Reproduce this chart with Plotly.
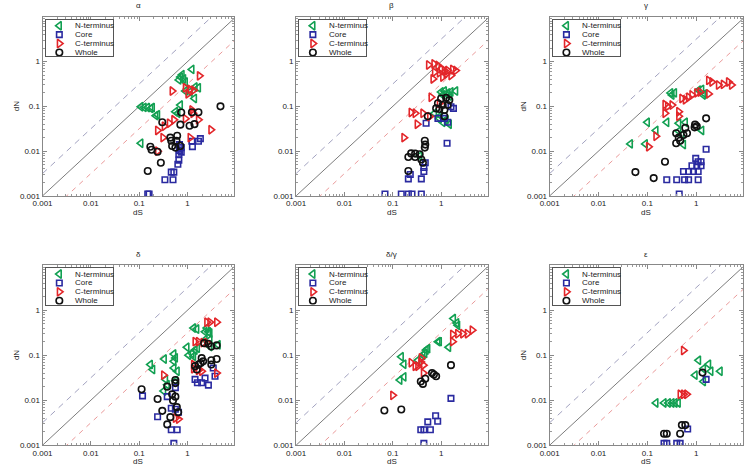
import plotly.graph_objects as go

W, H = 745, 470

# ---------------- data (dS, dN) ----------------
alpha_N_dS = [1.23,0.77,0.71,0.83,0.66,0.90,1.43,1.68,0.90,1.13,1.39,0.108,0.126,0.148,0.173,0.187,0.22,0.24,0.71,0.56,0.63,0.108]
alpha_N_dN = [0.67,0.51,0.45,0.41,0.39,0.35,0.27,0.26,0.22,0.21,0.15,0.098,0.095,0.094,0.090,0.094,0.062,0.065,0.107,0.076,0.070,0.015]
alpha_K_dS = [0.68,0.74,0.68,0.74,0.66,1.23,1.26,1.68,1.84,0.66,0.63,0.46,0.52,0.34,0.50,0.15,0.16]
alpha_K_dN = [0.014,0.012,0.0104,0.0095,0.0085,0.0166,0.0126,0.0166,0.019,0.0063,0.0051,0.0034,0.0034,0.0023,0.0023,0.0011,0.0011]
alpha_C_dS = [1.76,0.48,0.90,1.13,1.33,1.02,1.23,1.29,0.90,0.52,0.42,0.33,0.24,0.31,1.13,1.68,3.04,0.24]
alpha_C_dN = [0.48,0.22,0.26,0.24,0.23,0.19,0.083,0.070,0.053,0.050,0.042,0.036,0.029,0.020,0.020,0.050,0.030,0.010]
alpha_W_dS = [4.8,0.74,1.23,1.68,0.30,0.71,1.10,1.39,0.44,0.61,0.48,0.56,0.71,0.46,0.59,0.17,0.18,0.24,0.28,0.15]
alpha_W_dN = [0.10,0.073,0.074,0.074,0.044,0.039,0.037,0.040,0.020,0.022,0.013,0.012,0.013,0.017,0.017,0.0125,0.0107,0.0097,0.0055,0.0036]

beta_N_dS = [1.0,1.17,1.37,1.6,2.0,1.08,1.48,0.73,0.92,1.27,1.48,1.08,0.97,0.36]
beta_N_dN = [0.21,0.22,0.20,0.21,0.22,0.18,0.17,0.07,0.054,0.05,0.04,0.044,0.062,0.0078]
beta_K_dS = [1.6,1.8,0.86,1.17,1.37,0.49,1.33,0.47,0.44,0.44,0.23,0.21,0.39,0.069,0.15,0.21,0.25,0.39]
beta_K_dN = [0.098,0.09,0.054,0.054,0.044,0.042,0.015,0.0055,0.0043,0.0035,0.003,0.0024,0.0024,0.0011,0.0011,0.0011,0.0011,0.0011]
beta_C_dS = [0.55,0.71,0.86,1.0,1.17,1.37,1.73,2.0,0.73,0.92,1.27,1.6,0.68,1.08,0.62,0.24,0.29,0.42,0.32,0.58,0.17,0.92]
beta_C_dN = [0.84,0.89,0.82,0.69,0.63,0.63,0.67,0.63,0.58,0.56,0.53,0.49,0.41,0.45,0.16,0.073,0.070,0.070,0.040,0.059,0.020,0.117]
beta_W_dS = [1.0,1.27,1.48,0.86,1.08,1.37,0.79,0.92,1.17,0.53,1.17,0.46,0.47,0.46,0.24,0.29,0.21,0.29,0.36,0.39,0.42,0.21]
beta_W_dN = [0.15,0.155,0.138,0.117,0.107,0.107,0.09,0.087,0.083,0.06,0.06,0.017,0.014,0.012,0.0089,0.0088,0.0074,0.0074,0.0085,0.0065,0.0055,0.0036]

gamma_N_dS = [0.30,0.36,0.32,1.12,1.3,1.5,1.4,0.1,0.25,0.15,0.091,0.045,0.44,0.6,0.44,0.51,0.55,1.3]
gamma_N_dN = [0.20,0.20,0.18,0.23,0.24,0.19,0.18,0.044,0.044,0.029,0.0145,0.0145,0.042,0.044,0.028,0.023,0.014,0.029]
gamma_K_dS = [1.6,0.98,1.1,1.26,0.82,1.03,1.26,0.55,0.7,0.88,1.1,0.25,0.4,0.58,0.7,1.1,0.45]
gamma_K_dN = [0.011,0.0069,0.0058,0.0058,0.0047,0.0047,0.0047,0.0035,0.0035,0.0035,0.0035,0.0023,0.0023,0.0023,0.0023,0.0023,0.0011]
gamma_C_dS = [0.23,0.26,0.32,0.51,0.6,0.7,0.82,1.03,1.2,1.8,2.1,2.86,3.6,4.6,5.3,1.8,0.23,0.44,0.44,0.15,0.106]
gamma_C_dN = [0.11,0.10,0.107,0.15,0.14,0.16,0.18,0.20,0.21,0.38,0.35,0.30,0.31,0.35,0.30,0.19,0.07,0.076,0.06,0.0215,0.0125]
gamma_W_dS = [1.6,0.95,1.03,0.93,0.6,0.65,0.55,0.39,0.44,0.39,0.47,0.23,0.057,0.135]
gamma_W_dN = [0.054,0.039,0.036,0.034,0.033,0.025,0.023,0.025,0.02,0.015,0.017,0.0058,0.0034,0.0025]

delta_N_dS = [1.33,1.55,2.5,2.7,2.3,2.9,2.3,2.9,4.3,2.9,0.97,1.43,1.6,1.23,1.33,1.05,0.52,0.56,0.52,0.52,0.61,0.33,0.17,0.19,0.35,0.38,0.32,0.56]
delta_N_dN = [0.40,0.38,0.40,0.33,0.33,0.31,0.22,0.22,0.17,0.156,0.15,0.13,0.143,0.11,0.095,0.10,0.106,0.087,0.073,0.052,0.044,0.082,0.062,0.048,0.029,0.022,0.016,0.027]
delta_K_dS = [1.43,1.6,1.96,2.3,2.7,3.7,3.4,0.117,0.38,0.56,0.46,0.56,0.65,0.24,0.46,0.61,0.52]
delta_K_dN = [0.029,0.0245,0.0245,0.031,0.0216,0.034,0.052,0.0125,0.012,0.019,0.0066,0.0063,0.0054,0.0043,0.0022,0.0022,0.0011]
delta_C_dS = [2.5,2.9,4.0,1.43,1.68,2.1,2.5,1.33,1.33,1.68,1.96,4.0,0.32,0.56,0.65]
delta_C_dN = [0.54,0.54,0.54,0.2,0.2,0.19,0.19,0.062,0.05,0.046,0.044,0.04,0.036,0.004,0.0038]
delta_W_dS = [2.2,2.7,4.0,3.1,1.96,1.87,1.68,3.1,4.0,1.43,1.55,3.1,2.1,0.38,0.56,0.56,0.48,0.56,0.5,0.6,0.64,0.112,0.24,0.3,0.38,0.44]
delta_W_dN = [0.185,0.18,0.165,0.156,0.086,0.067,0.062,0.077,0.082,0.057,0.048,0.062,0.073,0.02,0.028,0.024,0.0135,0.012,0.0098,0.007,0.0054,0.0175,0.0106,0.0058,0.0029,0.0042]

dg_N_dS = [1.8,2.1,2.2,0.92,0.86,0.49,0.53,0.46,0.42,1.43,0.15,0.17,0.33,0.17,0.14]
dg_N_dN = [0.65,0.52,0.46,0.2,0.2,0.13,0.14,0.11,0.1,0.15,0.092,0.063,0.077,0.033,0.028]
dg_K_dS = [1.6,0.77,0.85,0.53,0.38,0.44,0.6,0.44]
dg_K_dN = [0.011,0.0045,0.0034,0.0033,0.0022,0.0022,0.0022,0.0011]
dg_C_dS = [1.73,2.2,2.8,3.5,4.4,1.73,0.39,0.38,0.24,0.29,0.33,0.43,0.43,0.10]
dg_C_dN = [0.29,0.30,0.30,0.30,0.36,0.2,0.087,0.071,0.068,0.057,0.057,0.06,0.04,0.0128]
dg_W_dS = [1.6,0.65,0.71,0.79,0.38,0.42,0.47,0.15,0.067]
dg_W_dN = [0.06,0.04,0.037,0.034,0.026,0.023,0.03,0.0062,0.0059]

eps_N_dS = [1.12,0.95,1.41,1.8,2.0,3.1,1.41,0.15,0.22,0.27,0.32,0.37,0.43]
eps_N_dN = [0.077,0.036,0.05,0.063,0.044,0.044,0.026,0.0087,0.0087,0.0087,0.0087,0.0087,0.0087]
eps_K_dS = [1.6,0.67,0.22,0.25,0.4,0.47]
eps_K_dN = [0.029,0.0023,0.0011,0.0011,0.0011,0.0011]
eps_C_dS = [0.55,0.47,0.55,0.64]
eps_C_dN = [0.127,0.0135,0.0135,0.0135]
eps_W_dS = [1.35,0.51,0.6,0.22,0.25,0.47]
eps_W_dN = [0.041,0.0028,0.0028,0.0018,0.0018,0.0018]

panel_titles = ["α", "β", "γ", "δ", "δ/γ", "ε"]
series_names = ["N-terminus", "Core", "C-terminus", "Whole"]
tick_vals = [0.001, 0.01, 0.1, 1]
tick_text = ["0.001", "0.01", "0.1", "1"]
ratio_lines = [10 ** 0.5, 1.0, 10 ** -0.5]  # dN/dS reference lines

panels = [
    [(alpha_N_dS, alpha_N_dN), (alpha_K_dS, alpha_K_dN), (alpha_C_dS, alpha_C_dN), (alpha_W_dS, alpha_W_dN)],
    [(beta_N_dS, beta_N_dN), (beta_K_dS, beta_K_dN), (beta_C_dS, beta_C_dN), (beta_W_dS, beta_W_dN)],
    [(gamma_N_dS, gamma_N_dN), (gamma_K_dS, gamma_K_dN), (gamma_C_dS, gamma_C_dN), (gamma_W_dS, gamma_W_dN)],
    [(delta_N_dS, delta_N_dN), (delta_K_dS, delta_K_dN), (delta_C_dS, delta_C_dN), (delta_W_dS, delta_W_dN)],
    [(dg_N_dS, dg_N_dN), (dg_K_dS, dg_K_dN), (dg_C_dS, dg_C_dN), (dg_W_dS, dg_W_dN)],
    [(eps_N_dS, eps_N_dN), (eps_K_dS, eps_K_dN), (eps_C_dS, eps_C_dN), (eps_W_dS, eps_W_dN)],
]

# ---------------- styles ----------------
FONT = "Liberation Sans, Arial, Helvetica, sans-serif"
styles = [
    dict(symbol="triangle-left-open", color="#12a052", size=7.5),
    dict(symbol="square-open", color="#2a2aa0", size=5.5),
    dict(symbol="triangle-right-open", color="#e3262a", size=7.5),
    dict(symbol="circle-open", color="#111111", size=6.5),
]
line_styles = [
    dict(color="#8a8ab0", dash="6px,5px", width=0.8),
    dict(color="#444444", dash="solid", width=0.7),
    dict(color="#e58080", dash="5px,5px", width=0.8),
]

col_left = [33, 290, 547]
col_right = [227, 484, 743]
row_top = [17, 268]
row_bot = [198, 450]

minor_vals = [m * 10 ** e for e in range(-3, 1) for m in range(2, 10)]

fig = go.Figure()
layout = dict(
    width=W, height=H, margin=dict(l=0, r=0, t=0, b=0),
    paper_bgcolor="white", plot_bgcolor="white", showlegend=False,
    font=dict(family=FONT, size=8, color="#222"),
)
annotations = []

LEG_W, LEG_H = 68, 37
leg_rows = [6, 15, 24, 33]

for p in range(6):
    r, c = divmod(p, 3)
    L, R, T, B = col_left[c], col_right[c], row_top[r], row_bot[r]
    ax = "" if p == 0 else str(p + 1)
    xa, ya = "x" + ax, "y" + ax
    for ratio, ls in zip(ratio_lines, line_styles):
        xs = [1e-3, 10]
        fig.add_trace(go.Scatter(x=xs, y=[v * ratio for v in xs], mode="lines", line=ls,
                                 xaxis=xa, yaxis=ya, hoverinfo="skip"))
    for (xs, ys), st, nm in zip(panels[p], styles, series_names):
        fig.add_trace(go.Scatter(
            x=xs, y=ys, mode="markers", name=nm, xaxis=xa, yaxis=ya,
            marker=dict(symbol=st["symbol"], size=st["size"], color=st["color"],
                        line=dict(color=st["color"], width=1.6))))
    common = dict(type="log", showline=True, mirror="allticks", linecolor="#888", linewidth=1,
                  ticks="inside", ticklen=4, tickcolor="#888", showgrid=False, zeroline=False,
                  tickvals=tick_vals, ticktext=tick_text, tickfont=dict(size=8, color="#222"),
                  minor=dict(ticks="inside", ticklen=2, tickcolor="#999", tickvals=minor_vals, showgrid=False))
    layout["xaxis" + ax] = dict(common, domain=[L / W, R / W], range=[-3, 0.96], anchor=ya)
    layout["yaxis" + ax] = dict(common, domain=[1 - B / H, 1 - T / H], range=[-3, 1], anchor=xa)

    # title & axis labels
    annotations.append(dict(text=panel_titles[p], x=(L + R) / 2 / W, y=1 - (T - 11) / H, xref="paper", yref="paper",
                            showarrow=False, font=dict(size=8, color="#222"), xanchor="center", yanchor="middle"))
    annotations.append(dict(text="dS", x=(L + R) / 2 / W, y=1 - (B + 15) / H, xref="paper", yref="paper",
                            showarrow=False, font=dict(size=8, color="#222"), xanchor="center", yanchor="top",
                            yshift=5))
    if c != 1:
        annotations.append(dict(text="dN", x=(L - 27) / W, y=1 - (T + B) / 2 / H,
                                xref="paper", yref="paper",
                                showarrow=False, textangle=-90, font=dict(size=8, color="#222"),
                                xanchor="center", yanchor="middle"))

    # legend box as its own small axes
    lx = str(p + 7)
    lL, lT = L + 3, T + 3
    layout["xaxis" + lx] = dict(domain=[lL / W, (lL + LEG_W) / W], range=[0, LEG_W], showline=True, mirror=True,
                                linecolor="#555", linewidth=1, showticklabels=False, ticks="", showgrid=False,
                                zeroline=False, anchor="y" + lx, fixedrange=True)
    layout["yaxis" + lx] = dict(domain=[1 - (lT + LEG_H) / H, 1 - lT / H], range=[LEG_H, 0], showline=True, mirror=True,
                                linecolor="#555", linewidth=1, showticklabels=False, ticks="", showgrid=False,
                                zeroline=False, anchor="x" + lx, fixedrange=True)
    for st, nm, yy in zip(styles, series_names, leg_rows):
        fig.add_trace(go.Scatter(x=[14], y=[yy], mode="markers", xaxis="x" + lx, yaxis="y" + lx,
                                 marker=dict(symbol=st["symbol"], size=st["size"], color=st["color"],
                                             line=dict(color=st["color"], width=1.6)), hoverinfo="skip"))
        annotations.append(dict(text=nm, x=28, y=yy, xref="x" + lx, yref="y" + lx, showarrow=False,
                                xanchor="left", yanchor="middle", font=dict(size=8, color="#222")))

layout["annotations"] = annotations
fig.update_layout(**layout)
fig.write_html("out.html", config={"displayModeBar": False},
               post_script="document.body.style.margin='0';document.body.style.overflow='hidden';")
